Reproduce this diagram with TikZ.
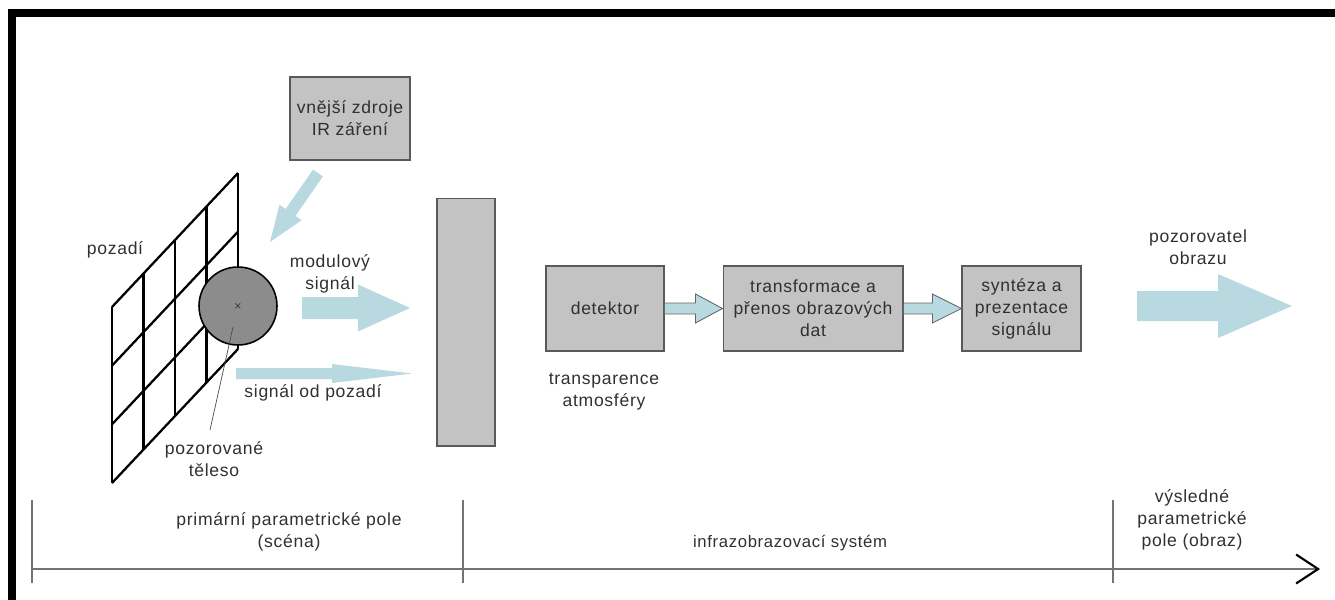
\documentclass[tikz,border=0pt]{standalone}
\usepackage{fontspec}
\setmainfont{Liberation Sans}[LetterSpace=4]
\usetikzlibrary{positioning,arrows.meta,calc}
\definecolor{irblue}{HTML}{B9D9E1}
\definecolor{boxgray}{HTML}{C3C3C3}
\definecolor{bodygray}{HTML}{8C8C8C}
\definecolor{txtgray}{HTML}{303030}
\tikzset{
  blockbox/.style={draw=black!65, line width=0.6pt, fill=boxgray, minimum height=1.7cm, align=center, text=txtgray, inner sep=1pt},
  lbl/.style={align=center, text=txtgray, inner sep=0pt},
  irarrow/.style={fill=irblue, draw=none},
  irlink/.style={fill=irblue, draw=black!60, line width=0.5pt},
  gridline/.style={line width=1.3pt},
  tickline/.style={draw=black!55, line width=0.6pt}
}
% fat arrow: [style]{from}{to}{shaft half width}{head half width}{head length}
\newcommand{\fatarrow}[6][irarrow]{%
  \coordinate (fa-s) at (#2);
  \coordinate (fa-e) at (#3);
  \coordinate (fa-h) at ($(fa-e)!#6!(fa-s)$);
  \path[#1] ($(fa-s)!#4!90:(fa-e)$) -- ($(fa-h)!#4!90:(fa-e)$) -- ($(fa-h)!#5!90:(fa-e)$)
    -- (fa-e) -- ($(fa-h)!#5!-90:(fa-e)$) -- ($(fa-h)!#4!-90:(fa-e)$) -- ($(fa-s)!#4!-90:(fa-e)$) -- cycle;
}

\begin{document}
\begin{tikzpicture}[x=0.02cm, y=-0.02cm, every node/.style={font=\fontsize{10}{12.5}\selectfont}]
  \useasboundingbox (0,0) rectangle (1335,599);
  % frame
  \draw[line width=0.16cm, line join=miter] (12,610) -- (12,13) -- (1345,13);

  % scene
  \foreach \i in {0,...,4}
    \draw[gridline] (112+31.5*\i, 307-33.5*\i) -- ++(0,176);
  \foreach \j in {0,...,3}
    \draw[gridline] (112, 307+58.67*\j) -- (238, 173+58.67*\j);
  \node[circle, draw=black, line width=0.9pt, fill=bodygray, minimum size=1.56cm, inner sep=0pt] (body) at (238,306) {\tiny$\times$};
  \node[blockbox, minimum width=2.4cm, minimum height=1.66cm] (src) at (350,118.5) {vnější zdroje\\IR záření};
  \node[blockbox, minimum width=1.16cm, minimum height=4.96cm] (screen) at (466,322) {};

  \node[lbl] (bglbl) at (115,250) {pozadí};
  \node[lbl] (modlbl) at (330,274) {modulový\\signál};
  \node[lbl] (siglbl) at (313,393) {signál od pozadí};
  \node[lbl] (bodylbl) at (214,459) {pozorované\\těleso};
  \coordinate (bodytip) at (233,327);
  \coordinate (bodyfoot) at (210,430);
  \draw[black!70, line width=0.4pt] (bodytip) -- (bodyfoot);

  \coordinate (irtail) at (318,173);
  \coordinate (irtip) at (270,242);
  \fatarrow{irtail}{irtip}{0.12cm}{0.27cm}{0.72cm}
  \coordinate (modtail) at (302,308);
  \coordinate (modtip) at (410,308);
  \fatarrow{modtail}{modtip}{0.22cm}{0.47cm}{1.04cm}
  \coordinate (bgtail) at (236,373.5);
  \coordinate (bgtip) at (412,373.5);
  \fatarrow{bgtail}{bgtip}{0.11cm}{0.19cm}{1.6cm}

  % imaging system
  \node[blockbox, minimum width=2.36cm] (det) at (605,308.5) {detektor};
  \node[blockbox, minimum width=3.6cm] (trans) at (813,308.5) {transformace a\\přenos obrazových\\dat};
  \node[blockbox, minimum width=2.38cm] (synt) at (1021.5,308.5) {syntéza a\\prezentace\\signálu};
  \fatarrow[irlink]{det.east}{trans.west}{0.11cm}{0.29cm}{0.54cm}
  \fatarrow[irlink]{trans.east}{synt.west}{0.11cm}{0.29cm}{0.58cm}
  \node[lbl] (atmlbl) at (604,392) {transparence\\atmosféry};

  % observer
  \node[lbl] (obslbl) at (1198,247) {pozorovatel\\obrazu};
  \coordinate (obstail) at (1137,306);
  \coordinate (obstip) at (1292,306);
  \fatarrow{obstail}{obstip}{0.3cm}{0.64cm}{1.48cm}

  % time axis
  \coordinate (t0) at (32,569);
  \coordinate (t1) at (1320,569);
  \draw[draw=black!55, line width=0.9pt, -{Straight Barb[length=0.44cm, width=0.58cm, line width=1.2pt, black]}] (t0) -- (t1);
  \foreach \x in {32,463,1113}
    \draw[tickline] (\x,500) -- (\x,583);
  \node[lbl] (scenelbl) at (289,532) {primární parametrické pole\\(scéna)};
  \node[lbl, font=\fontsize{9.5}{12}\selectfont] (syslbl) at (790,543) {infrazobrazovací systém};
  \node[lbl] (imglbl) at (1192,520) {výsledné\\parametrické\\pole (obraz)};
\end{tikzpicture}
\end{document}
